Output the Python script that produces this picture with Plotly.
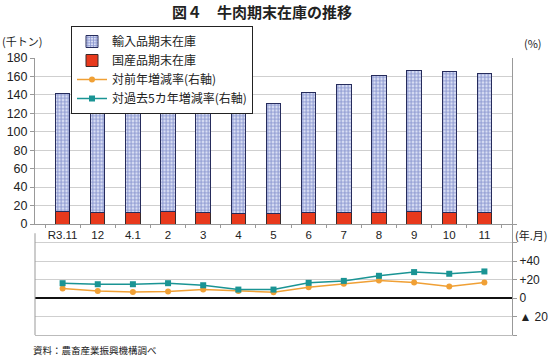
import plotly.graph_objects as go

categories = ["R3.11", "12", "4.1", "2", "3", "4", "5", "6", "7", "8", "9", "10", "11"]
domestic = [13.7, 12.7, 12.7, 13.7, 12.7, 11.6, 11.6, 12.3, 12.3, 12.3, 13.4, 12.3, 12.3]
imported = [127.3, 122.3, 122.3, 120.3, 115.3, 114.9, 119.4, 130.5, 139.2, 148.2, 152.9, 152.6, 150.7]
yoy_rate = [10.2, 7.6, 6.5, 6.9, 9.1, 7.6, 6.2, 11.6, 15.3, 18.9, 16.7, 12.4, 16.7]
vs5yr_rate = [16.0, 14.9, 14.9, 16.0, 13.8, 9.1, 9.1, 16.4, 18.5, 24.0, 28.0, 26.2, 28.7]

left_ticks = list(range(0, 181, 20))
right_tickvals = [-40, -20, 0, 20, 40, 60, 80]
right_ticktext = ["", "▲ 20", "0", "+20", "+40", "", ""]

FONT = "Liberation Sans, Noto Sans CJK JP, sans-serif"
JFONT = "Noto Sans CJK JP, sans-serif"

fig = go.Figure()

fig.add_trace(go.Bar(
    x=categories, y=domestic, name="国産品期末在庫",
    marker=dict(color="#e8391c", line=dict(color="#3a2a2a", width=1)),
    width=0.41, xaxis="x", yaxis="y", legendrank=2,
))
fig.add_trace(go.Bar(
    x=categories, y=imported, name="輸入品期末在庫",
    marker=dict(color="#c8d0ee", line=dict(color="#262c5c", width=1),
                pattern=dict(shape="+", fgcolor="#3a4caa", bgcolor="#d9dff4",
                             size=3.5, solidity=0.5)),
    width=0.41, xaxis="x", yaxis="y", legendrank=1,
))
fig.add_trace(go.Scatter(
    x=categories, y=yoy_rate, name="対前年増減率(右軸)", mode="lines+markers",
    line=dict(color="#f0a035", width=1.5),
    marker=dict(symbol="circle", size=6, color="#f0a035"),
    xaxis="x2", yaxis="y2", legendrank=3,
))
fig.add_trace(go.Scatter(
    x=categories, y=vs5yr_rate, name="対過去5カ年増減率(右軸)", mode="lines+markers",
    line=dict(color="#1a9494", width=1.5),
    marker=dict(symbol="square", size=6, color="#1a9494"),
    xaxis="x2", yaxis="y2", legendrank=4,
))

upper_bottom = (335 - 224) / 277

fig.update_layout(
    width=550, height=358,
    margin=dict(l=35, r=38, t=58, b=23, autoexpand=False),
    paper_bgcolor="white", plot_bgcolor="rgba(0,0,0,0)",
    barmode="stack",
    font=dict(family=FONT, size=11, color="#222"),
    showlegend=True,
    legend=dict(
        x=(71 - 35) / 477, y=(335 - 26) / 277, xanchor="left", yanchor="top",
        bgcolor="white", bordercolor="#222", borderwidth=1,
        font=dict(family=JFONT, size=12, color="#222"),
        traceorder="normal", tracegroupgap=0, itemwidth=30,
    ),
    xaxis=dict(
        domain=[0, 1], anchor="y", type="category", automargin=False,
        showline=True, linecolor="#999", linewidth=1, tickangle=0,
        ticks="outside", tickson="boundaries", ticklen=3, tickcolor="#999",
        tickfont=dict(family=FONT, size=11.5, color="#222"),
        showgrid=False,
    ),
    yaxis=dict(
        domain=[upper_bottom, 1], range=[0, 180], tickvals=left_ticks, automargin=False,
        showline=True, linecolor="#999", linewidth=1, mirror=True,
        ticks="outside", ticklen=4, tickcolor="#999",
        showgrid=True, gridcolor="#cfcfcf", gridwidth=1,
        tickfont=dict(family=FONT, size=12.5, color="#222"),
        zeroline=False,
    ),
    xaxis2=dict(
        domain=[0, 1], anchor="y2", type="category", matches="x", automargin=False,
        showticklabels=False, showline=True, linecolor="#bbb", linewidth=1,
        showgrid=False, ticks="",
    ),
    yaxis2=dict(
        domain=[0, upper_bottom], range=[-40, 80], side="right", anchor="x2",
        tickvals=right_tickvals, ticktext=right_ticktext, automargin=False,
        showline=True, linecolor="#999", linewidth=1,
        ticks="outside", ticklen=4, tickcolor="#999",
        showgrid=True, gridcolor="#cfcfcf", gridwidth=1,
        zeroline=True, zerolinecolor="#111", zerolinewidth=2.2,
        tickfont=dict(family=FONT, size=12, color="#222"),
    ),
    shapes=[dict(type="line", xref="paper", yref="y2", x0=0, x1=0, y0=-40, y1=70,
                 line=dict(color="#999", width=1))],
    annotations=[
        dict(text="<b>図４　牛肉期末在庫の推移</b>", x=(262 - 35) / 477, y=(335 - 11) / 277,
             xref="paper", yref="paper", xanchor="center", yanchor="middle", showarrow=False,
             font=dict(family=JFONT, size=15, color="#222")),
        dict(text="(千トン)", x=-35 / 477, y=(335 - 41) / 277, xref="paper", yref="paper",
             xanchor="left", yanchor="middle", showarrow=False,
             font=dict(family=JFONT, size=11, color="#222")),
        dict(text="(%)", x=(522 - 35) / 477, y=(335 - 43) / 277, xref="paper", yref="paper",
             xanchor="left", yanchor="middle", showarrow=False,
             font=dict(family=JFONT, size=11, color="#222")),
        dict(text="(年.月)", x=(513 - 35) / 477, y=(335 - 235) / 277, xref="paper", yref="paper",
             xanchor="left", yanchor="middle", showarrow=False,
             font=dict(family=JFONT, size=11, color="#222")),
        dict(text="資料：農畜産業振興機構調べ", x=(31 - 35) / 477, y=(335 - 350) / 277,
             xref="paper", yref="paper", xanchor="left", yanchor="middle", showarrow=False,
             font=dict(family=JFONT, size=9.5, color="#222")),
    ],
)

fig.write_html("out.html", config={"displayModeBar": False},
               post_script="document.body.style.margin='0px';")
